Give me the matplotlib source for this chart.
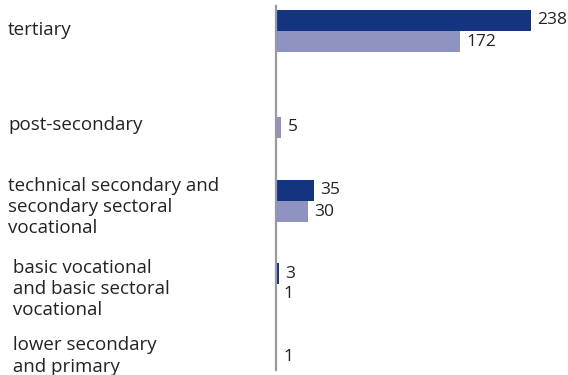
import matplotlib
matplotlib.use("Agg")
import matplotlib.pyplot as plt

# ---- data ----
categories = [
    "tertiary",
    "post-secondary",
    "technical secondary and\nsecondary sectoral\nvocational",
    " basic vocational\n and basic sectoral\n vocational",
    " lower secondary\n and primary",
]
series_dark = [238, None, 35, 3, None]
series_light = [172, 5, 30, 1, 1]

# ---- layout (pixel-like units on an inverted y axis) ----
group_centers = [31, 127, 201, 284, 357]
label_centers = [30, 125, 207, 289, 356]
bar_h = 21
W, H = 568, 375
dark_col = "#15347f"
light_col = "#8e93c1"
text_col = "#222222"
font = "Open Sans"

fig = plt.figure(figsize=(W / 100, H / 100), dpi=100)
x0 = 276
ax = fig.add_axes([x0 / W, 0, (W - x0) / W, 1])
px_per_unit = 255 / 238
ax.set_xlim(0, (W - x0) / px_per_unit)
ax.set_ylim(H, 0)

for i, c in enumerate(group_centers):
    d, l = series_dark[i], series_light[i]
    bars = []
    if d is not None and l is not None:
        bars = [(d, c - bar_h / 2, dark_col), (l, c + bar_h / 2, light_col)]
    elif d is not None:
        bars = [(d, c, dark_col)]
    elif l is not None:
        bars = [(l, c, light_col)]
    for v, y, col in bars:
        ax.barh(y, v, height=bar_h, color=col, left=0, linewidth=0)
        ax.annotate(str(v), xy=(v, y), xytext=(4.5, 0), textcoords="offset points",
                    va="center", ha="left", fontsize=12.5, color=text_col, family=font)

for lab, yc in zip(categories, label_centers):
    fig.text(8 / W, 1 - yc / H, lab, ha="left", va="center", fontsize=13.5,
             color=text_col, family=font, linespacing=1.22)

for s in ["top", "right", "bottom"]:
    ax.spines[s].set_visible(False)
ax.spines["left"].set_color("#9a9a9a")
ax.spines["left"].set_linewidth(1.6)
ax.spines["left"].set_bounds(370, 6)
ax.set_xticks([])
ax.set_yticks([])
ax.patch.set_alpha(0)

fig.savefig("out.png", dpi=100)
